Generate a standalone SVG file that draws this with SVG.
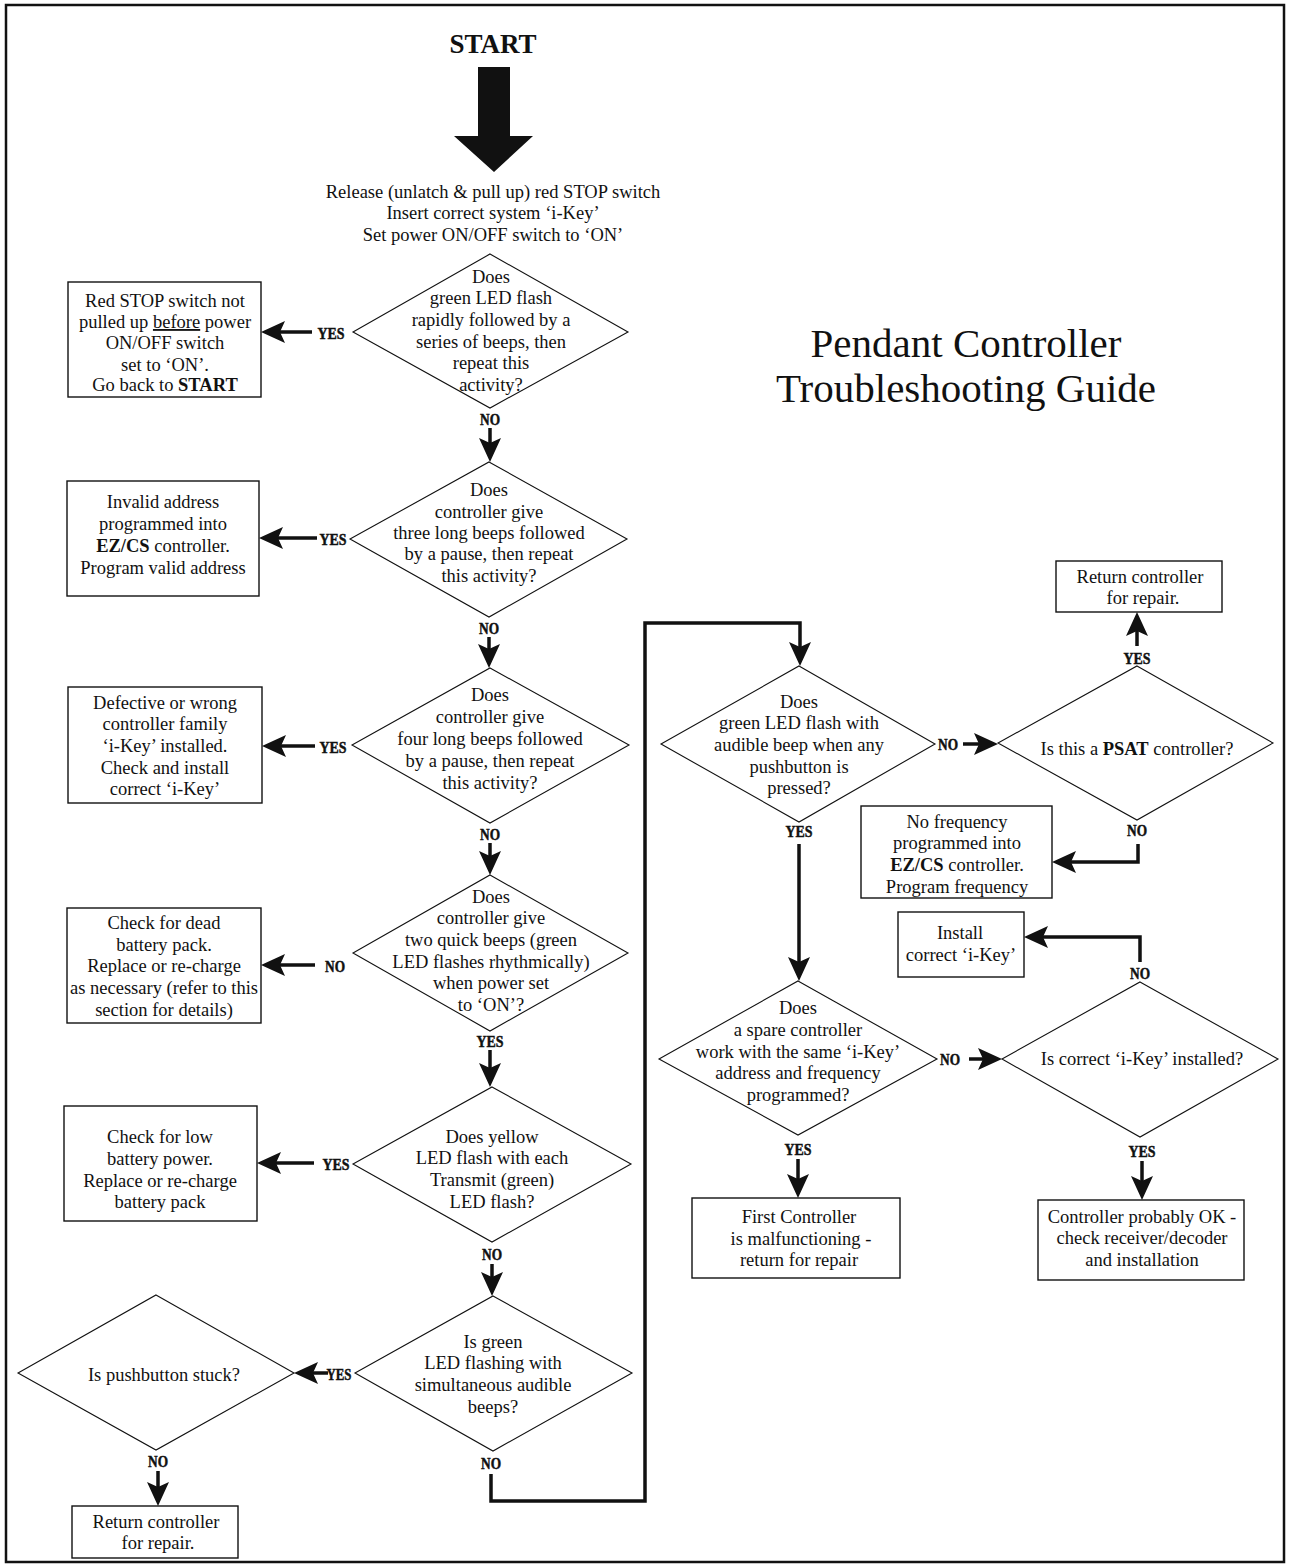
<svg xmlns="http://www.w3.org/2000/svg" width="1289" height="1566" viewBox="0 0 1289 1566">
<style>
  text { font-family: "Liberation Serif", "Times New Roman", serif; fill: #111; }
  .t { font-size: 18.5px; text-anchor: middle; }
  .ttl { font-size: 41px; text-anchor: middle; }
  .lbl { font-size: 17px; font-weight: bold; text-anchor: middle; stroke: #111; stroke-width: 0.5; }
  .b { font-weight: bold; }
  .box { fill: #fff; stroke: #111; stroke-width: 1.4; }
  .dia { fill: #fff; stroke: #111; stroke-width: 1.1; }
  .con { fill: none; stroke: #111; stroke-width: 3.5; stroke-linejoin: miter; marker-end: url(#ah); }
</style>
<defs>
  <marker id="ah" markerUnits="userSpaceOnUse" markerWidth="26" markerHeight="22" viewBox="0 0 26 22" refX="5" refY="11" orient="auto">
    <path d="M0,0 L24,11 L0,22 L5,11 z" fill="#111"/>
  </marker>
</defs>
<rect x="0" y="0" width="1289" height="1566" fill="#fff"/>
<rect id="border" x="6" y="5" width="1278" height="1557" fill="none" stroke="#111" stroke-width="2.5"/>

<g id="title">
  <text class="ttl" x="966" y="357">Pendant Controller</text>
  <text class="ttl" x="966" y="402">Troubleshooting Guide</text>
</g>

<g id="start">
  <text x="493" y="53" font-size="27" font-weight="bold" text-anchor="middle">START</text>
  <polygon points="478,67 510,67 510,136 533,136 494,172 454,136 478,136" fill="#111"/>
  <text class="t"><tspan x="493" y="198">Release (unlatch &amp; pull up) red STOP switch</tspan><tspan x="493" y="219">Insert correct system ‘i-Key’</tspan><tspan x="493" y="241">Set power ON/OFF switch to ‘ON’</tspan></text>
</g>

<g id="d1">
  <polygon class="dia" points="490,254 628,332 490,408 353,332"/>
  <text class="t"><tspan x="491" y="283">Does</tspan><tspan x="491" y="304">green LED flash</tspan><tspan x="491" y="326">rapidly followed by a</tspan><tspan x="491" y="348">series of beeps, then</tspan><tspan x="491" y="369">repeat this</tspan><tspan x="491" y="391">activity?</tspan></text>
</g>
<g id="b1">
  <rect class="box" x="68" y="282" width="193" height="115"/>
  <text class="t"><tspan x="165" y="307">Red STOP switch not</tspan><tspan x="165" y="328">pulled up <tspan text-decoration="underline">before</tspan> power</tspan><tspan x="165" y="349">ON/OFF switch</tspan><tspan x="165" y="371">set to ‘ON’.</tspan><tspan x="165" y="391">Go back to <tspan class="b">START</tspan></tspan></text>
</g>

<g id="d2">
  <polygon class="dia" points="489,462 627,539 489,617 350,539"/>
  <text class="t"><tspan x="489" y="496">Does</tspan><tspan x="489" y="518">controller give</tspan><tspan x="489" y="539">three long beeps followed</tspan><tspan x="489" y="560">by a pause, then repeat</tspan><tspan x="489" y="582">this activity?</tspan></text>
</g>
<g id="b2">
  <rect class="box" x="67" y="481" width="192" height="115"/>
  <text class="t"><tspan x="163" y="508">Invalid address</tspan><tspan x="163" y="530">programmed into</tspan><tspan x="163" y="552"><tspan class="b">EZ/CS</tspan> controller.</tspan><tspan x="163" y="574">Program valid address</tspan></text>
</g>

<g id="d3">
  <polygon class="dia" points="490,668 629,745 490,823 352,745"/>
  <text class="t"><tspan x="490" y="701">Does</tspan><tspan x="490" y="723">controller give</tspan><tspan x="490" y="745">four long beeps followed</tspan><tspan x="490" y="767">by a pause, then repeat</tspan><tspan x="490" y="789">this activity?</tspan></text>
</g>
<g id="b3">
  <rect class="box" x="68" y="687" width="194" height="116"/>
  <text class="t"><tspan x="165" y="709">Defective or wrong</tspan><tspan x="165" y="730">controller family</tspan><tspan x="165" y="752">‘i-Key’ installed.</tspan><tspan x="165" y="774">Check and install</tspan><tspan x="165" y="795">correct ‘i-Key’</tspan></text>
</g>

<g id="d4">
  <polygon class="dia" points="490,875 628,953 490,1031 353,953"/>
  <text class="t"><tspan x="491" y="903">Does</tspan><tspan x="491" y="924">controller give</tspan><tspan x="491" y="946">two quick beeps (green</tspan><tspan x="491" y="968">LED flashes rhythmically)</tspan><tspan x="491" y="989">when power set</tspan><tspan x="491" y="1011">to ‘ON’?</tspan></text>
</g>
<g id="b4">
  <rect class="box" x="67" y="908" width="194" height="115"/>
  <text class="t"><tspan x="164" y="929">Check for dead</tspan><tspan x="164" y="951">battery pack.</tspan><tspan x="164" y="972">Replace or re-charge</tspan><tspan x="164" y="994">as necessary (refer to this</tspan><tspan x="164" y="1016">section for details)</tspan></text>
</g>

<g id="d5">
  <polygon class="dia" points="492,1087 631,1164 492,1242 353,1164"/>
  <text class="t"><tspan x="492" y="1143">Does yellow</tspan><tspan x="492" y="1164">LED flash with each</tspan><tspan x="492" y="1186">Transmit (green)</tspan><tspan x="492" y="1208">LED flash?</tspan></text>
</g>
<g id="b5">
  <rect class="box" x="64" y="1106" width="193" height="115"/>
  <text class="t"><tspan x="160" y="1143">Check for low</tspan><tspan x="160" y="1165">battery power.</tspan><tspan x="160" y="1187">Replace or re-charge</tspan><tspan x="160" y="1208">battery pack</tspan></text>
</g>

<g id="d6">
  <polygon class="dia" points="493,1296 632,1373 493,1451 355,1373"/>
  <text class="t"><tspan x="493" y="1348">Is green</tspan><tspan x="493" y="1369">LED flashing with</tspan><tspan x="493" y="1391">simultaneous audible</tspan><tspan x="493" y="1413">beeps?</tspan></text>
</g>
<g id="d7">
  <polygon class="dia" points="156,1295 294,1373 156,1450 18,1373"/>
  <text class="t" x="164" y="1381">Is pushbutton stuck?</text>
</g>
<g id="b7">
  <rect class="box" x="72" y="1506" width="166" height="52"/>
  <text class="t"><tspan x="156" y="1528">Return controller</tspan><tspan x="158" y="1549">for repair.</tspan></text>
</g>

<g id="d8">
  <polygon class="dia" points="799,666 935,744 799,822 661,744"/>
  <text class="t"><tspan x="799" y="708">Does</tspan><tspan x="799" y="729">green LED flash with</tspan><tspan x="799" y="751">audible beep when any</tspan><tspan x="799" y="773">pushbutton is</tspan><tspan x="799" y="794">pressed?</tspan></text>
</g>
<g id="d9">
  <polygon class="dia" points="1137,666 1273,743 1137,820 998,743"/>
  <text class="t" x="1137" y="755">Is this a <tspan class="b">PSAT</tspan> controller?</text>
</g>
<g id="r1">
  <rect class="box" x="1056" y="561" width="166" height="51"/>
  <text class="t"><tspan x="1140" y="583">Return controller</tspan><tspan x="1143" y="604">for repair.</tspan></text>
</g>
<g id="b8">
  <rect class="box" x="861" y="806" width="191" height="92"/>
  <text class="t"><tspan x="957" y="828">No frequency</tspan><tspan x="957" y="849">programmed into</tspan><tspan x="957" y="871"><tspan class="b">EZ/CS</tspan> controller.</tspan><tspan x="957" y="893">Program frequency</tspan></text>
</g>
<g id="b9">
  <rect class="box" x="898" y="912" width="126" height="65"/>
  <text class="t"><tspan x="960" y="939">Install</tspan><tspan x="961" y="961">correct ‘i-Key’</tspan></text>
</g>

<g id="d10">
  <polygon class="dia" points="798,981 937,1059 798,1135 659,1059"/>
  <text class="t"><tspan x="798" y="1014">Does</tspan><tspan x="798" y="1036">a spare controller</tspan><tspan x="798" y="1058">work with the same ‘i-Key’</tspan><tspan x="798" y="1079">address and frequency</tspan><tspan x="798" y="1101">programmed?</tspan></text>
</g>
<g id="d11">
  <polygon class="dia" points="1140,982 1278,1059 1140,1137 1002,1059"/>
  <text class="t" x="1142" y="1065">Is correct ‘i-Key’ installed?</text>
</g>
<g id="b10">
  <rect class="box" x="692" y="1198" width="208" height="80"/>
  <text class="t"><tspan x="799" y="1223">First Controller</tspan><tspan x="801" y="1245">is malfunctioning -</tspan><tspan x="799" y="1266">return for repair</tspan></text>
</g>
<g id="b11">
  <rect class="box" x="1038" y="1200" width="206" height="80"/>
  <text class="t"><tspan x="1142" y="1223">Controller probably OK -</tspan><tspan x="1142" y="1244">check receiver/decoder</tspan><tspan x="1142" y="1266">and installation</tspan></text>
</g>

<g id="connectors">
  <path class="con" d="M312,332 H280"/>
  <path class="con" d="M490,428 V443"/>
  <path class="con" d="M317,538 H278"/>
  <path class="con" d="M489,637 V649"/>
  <path class="con" d="M315,746 H281"/>
  <path class="con" d="M490,843 V856"/>
  <path class="con" d="M315,965 H280"/>
  <path class="con" d="M490,1050 V1068"/>
  <path class="con" d="M314,1163 H276"/>
  <path class="con" d="M492,1264 V1277"/>
  <path class="con" d="M328,1373 H313"/>
  <path class="con" d="M158,1471 V1487"/>
  <path class="con" d="M491,1474 V1501 H645 V623 H800 V647"/>
  <path class="con" d="M799,844 V962"/>
  <path class="con" d="M963,744 H979"/>
  <path class="con" d="M1137,646 V631"/>
  <path class="con" d="M1138,844 V862 H1071"/>
  <path class="con" d="M1140,962 V937 H1043"/>
  <path class="con" d="M969,1059 H983"/>
  <path class="con" d="M798,1159 V1179"/>
  <path class="con" d="M1142,1161 V1181"/>

  <text class="lbl" x="331" y="339" textLength="27" lengthAdjust="spacingAndGlyphs">YES</text>
  <text class="lbl" x="490" y="425" textLength="20" lengthAdjust="spacingAndGlyphs">NO</text>
  <text class="lbl" x="333" y="545" textLength="27" lengthAdjust="spacingAndGlyphs">YES</text>
  <text class="lbl" x="489" y="634" textLength="20" lengthAdjust="spacingAndGlyphs">NO</text>
  <text class="lbl" x="333" y="753" textLength="27" lengthAdjust="spacingAndGlyphs">YES</text>
  <text class="lbl" x="490" y="840" textLength="20" lengthAdjust="spacingAndGlyphs">NO</text>
  <text class="lbl" x="335" y="972" textLength="20" lengthAdjust="spacingAndGlyphs">NO</text>
  <text class="lbl" x="490" y="1047" textLength="27" lengthAdjust="spacingAndGlyphs">YES</text>
  <text class="lbl" x="336" y="1170" textLength="27" lengthAdjust="spacingAndGlyphs">YES</text>
  <text class="lbl" x="492" y="1260" textLength="20" lengthAdjust="spacingAndGlyphs">NO</text>
  <text class="lbl" x="339" y="1380" textLength="25" lengthAdjust="spacingAndGlyphs">YES</text>
  <text class="lbl" x="158" y="1467" textLength="20" lengthAdjust="spacingAndGlyphs">NO</text>
  <text class="lbl" x="491" y="1469" textLength="20" lengthAdjust="spacingAndGlyphs">NO</text>
  <text class="lbl" x="799" y="837" textLength="27" lengthAdjust="spacingAndGlyphs">YES</text>
  <text class="lbl" x="948" y="750" textLength="20" lengthAdjust="spacingAndGlyphs">NO</text>
  <text class="lbl" x="1137" y="664" textLength="27" lengthAdjust="spacingAndGlyphs">YES</text>
  <text class="lbl" x="1137" y="836" textLength="20" lengthAdjust="spacingAndGlyphs">NO</text>
  <text class="lbl" x="1140" y="979" textLength="20" lengthAdjust="spacingAndGlyphs">NO</text>
  <text class="lbl" x="950" y="1065" textLength="20" lengthAdjust="spacingAndGlyphs">NO</text>
  <text class="lbl" x="798" y="1155" textLength="27" lengthAdjust="spacingAndGlyphs">YES</text>
  <text class="lbl" x="1142" y="1157" textLength="27" lengthAdjust="spacingAndGlyphs">YES</text>
</g>
</svg>
